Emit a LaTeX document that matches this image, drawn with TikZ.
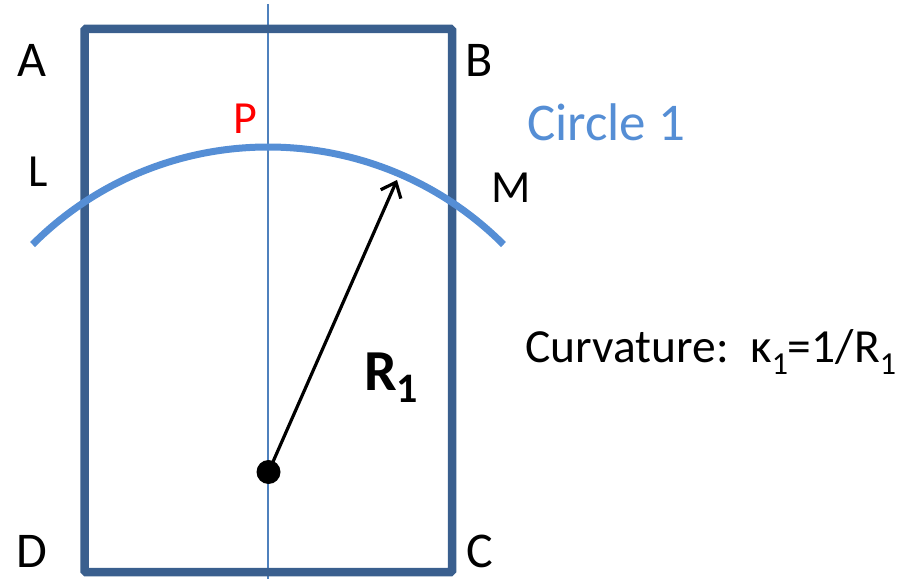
\documentclass[tikz,border=0pt]{standalone}
\usepackage{fontspec}
\setmainfont{Carlito}
\usetikzlibrary{arrows.meta}
\definecolor{rectblue}{HTML}{3A5F8E}
\definecolor{arcblue}{HTML}{558ED5}
\definecolor{axisblue}{HTML}{4F81BD}
\begin{document}
\begin{tikzpicture}[x=1pt,y=1pt,
  corner/.style={inner sep=0pt, font=\fontsize{50}{50}\selectfont},
  ptlabel/.style={inner sep=0pt, font=\fontsize{46}{46}\selectfont}]
\useasboundingbox (0,0) rectangle (913,579);
% vertical axis
\coordinate (vtop) at (268,575);
\coordinate (vbot) at (268,0);
\draw[axisblue, line width=1.5pt] (vtop) -- (vbot);
% rectangle
\draw[rectblue, line width=8.5pt, rounded corners=1.5pt] (84.5,7) rectangle (452,550);
% arc (circle 1)
\coordinate (cc) at (268,99);
\draw[arcblue, line width=7pt] ([shift={(135:333)}]cc) arc[start angle=135, end angle=45, radius=333];
% centre dot and radius arrow
\node[circle, fill=black, inner sep=0pt, minimum size=24pt] (dot) at (268.5,107) {};
\coordinate (tip) at (397,399);
\draw[line width=3.2pt, -{Straight Barb[length=13pt,width=22pt,line width=3.2pt]}] (dot.center) -- (tip);
% labels
\node[corner] (A) at (32,519) {A};
\node[corner] (B) at (479,519) {B};
\node[corner] (C) at (480,28) {C};
\node[corner] (D) at (32,28) {D};
\node[ptlabel] (L) at (38,407) {L};
\node[ptlabel] (M) at (511,391) {M};
\node[ptlabel, text=red] (P) at (245,460) {P};
\node[inner sep=0pt, text=arcblue, font=\fontsize{53}{53}\selectfont] (circ) at (606,457) {Circle 1};
\node[inner sep=0pt, anchor=base west, font=\fontsize{47.5}{47.5}\selectfont] (curv) at (525,216)
  {Curvature:\ \ κ\raisebox{-12pt}{\fontsize{32}{32}\selectfont 1}=1/R\raisebox{-12pt}{\fontsize{32}{32}\selectfont 1}};
\node[inner sep=0pt, anchor=base west, font=\fontsize{58}{58}\selectfont\bfseries] (R) at (364,189)
  {R\raisebox{-12pt}{\fontsize{42}{42}\selectfont 1}};
\end{tikzpicture}
\end{document}
